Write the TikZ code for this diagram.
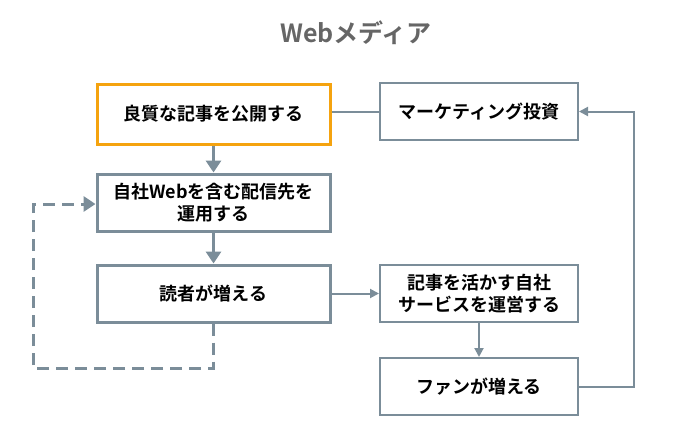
\documentclass[tikz,border=0pt]{standalone}
\usepackage{fontspec}
\newfontfamily\jp{Noto Sans CJK JP Bold}
\usetikzlibrary{arrows.meta}
\definecolor{lc}{HTML}{7B8D99}
\definecolor{org}{HTML}{F5A30F}
\definecolor{tc}{HTML}{666666}
\begin{document}
\begin{tikzpicture}[x=1pt,y=-1pt,
  boxthick/.style={draw=lc,line width=3pt,minimum width=233pt,minimum height=57pt,align=center,font=\jp\fontsize{18}{22}\selectfont,inner sep=0pt},
  boxthin/.style={draw=lc,line width=2pt,minimum width=198pt,minimum height=57pt,align=center,font=\jp\fontsize{18}{22}\selectfont,inner sep=0pt},
  bigarr/.style={draw=lc,line width=3pt,-{Triangle[length=12pt,width=15pt]}},
  smallarr/.style={draw=lc,line width=2pt,-{Triangle[length=9pt,width=9pt]}}]
\useasboundingbox (0,0) rectangle (678,442);
\node[font=\jp\fontsize{25}{28}\selectfont,text=tc] (title) at (356,33) {Webメディア};
\node[boxthick,draw=org,minimum height=60pt] (a) at (213.5,114) {良質な記事を公開する};
\node[boxthin] (m) at (479,111.5) {マーケティング投資};
\node[boxthick] (b) at (213.5,202.5) {自社Webを含む配信先を\\運用する};
\node[boxthick] (c) at (213.5,293.5) {読者が増える};
\node[boxthin] (d) at (479,293.5) {記事を活かす自社\\サービスを運営する};
\node[boxthin] (f) at (479,386.5) {ファンが増える};
\draw[lc,line width=2pt] (a.east |- m.west) -- (m.west);
\draw[bigarr] (a) -- (b);
\draw[bigarr] (b) -- (c);
\draw[smallarr] (c.east) -- (d.west);
\draw[smallarr] (d) -- (f);
\coordinate (r1) at (634,386.5);
\coordinate (r2) at (634,111.5);
\draw[smallarr] (f.east) -- (r1) -- (r2) -- (m.east);
\coordinate (l1) at (213.5,368);
\coordinate (l2) at (33,368);
\coordinate (l3) at (33,204);
\draw[bigarr,dash pattern=on 12pt off 7pt] (c.south) -- (l1) -- (l2) -- (l3) -- (b.west |- l3);
\end{tikzpicture}
\end{document}
